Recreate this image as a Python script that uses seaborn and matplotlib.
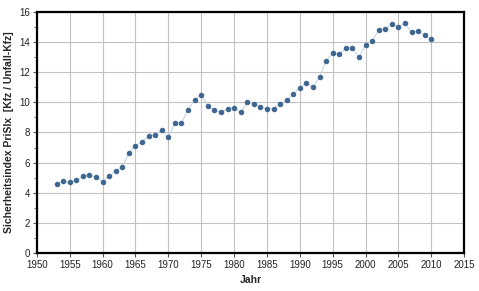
import matplotlib
matplotlib.use("Agg")
import matplotlib.pyplot as plt
import seaborn as sns
import pandas as pd
from matplotlib.ticker import MultipleLocator

years = list(range(1953, 2011))
prisix = [4.58, 4.78, 4.69, 4.83, 5.09, 5.16, 5.05, 4.74, 5.13, 5.42,
          5.73, 6.64, 7.13, 7.37, 7.75, 7.84, 8.19, 7.68, 8.61, 8.63,
          9.52, 10.16, 10.49, 9.76, 9.47, 9.34, 9.56, 9.65, 9.34, 10.00,
          9.92, 9.72, 9.54, 9.58, 9.92, 10.14, 10.54, 10.98, 11.29, 11.02,
          11.69, 12.75, 13.26, 13.21, 13.61, 13.61, 13.01, 13.81, 14.08, 14.78,
          14.90, 15.18, 15.03, 15.25, 14.65, 14.74, 14.45, 14.19]

df = pd.DataFrame({'Jahr': years, 'PriSIx': prisix})

sns.set_style('ticks')
plt.rcParams['font.family'] = ['Liberation Sans', 'DejaVu Sans']

fig = plt.figure(figsize=(4.79, 2.91), dpi=100)
ax = fig.add_axes([0.077, 0.1306, 0.892, 0.8282])

sns.lineplot(data=df, x='Jahr', y='PriSIx', ax=ax, color='#c9d6e6', linewidth=0.8,
             marker='o', markersize=3.2, markerfacecolor='#3f6690',
             markeredgecolor='#3f6690', zorder=3)

ax.set_xlim(1950, 2015)
ax.set_ylim(0, 16)
ax.xaxis.set_major_locator(MultipleLocator(5))
ax.yaxis.set_major_locator(MultipleLocator(2))
ax.yaxis.set_minor_locator(MultipleLocator(1))
ax.grid(True, which='major', color='#c2c2c2', linewidth=0.8)
ax.set_axisbelow(True)

for s in ax.spines.values():
    s.set_visible(True)
    s.set_color('black')
    s.set_linewidth(1.6)

ax.tick_params(axis='both', which='major', labelsize=7, length=3, width=0.8,
               color='#555555', pad=2, labelcolor='#222222')
ax.tick_params(axis='y', which='minor', length=2, width=0.6, color='#555555')

ax.set_xlabel('Jahr', fontsize=7.5, fontweight='bold', labelpad=4)
ax.set_ylabel('Sicherheitsindex PriSIx  [Kfz / Unfall-Kfz]', fontsize=7.5,
              fontweight='bold', labelpad=4)

fig.savefig('out.png', dpi=100)
